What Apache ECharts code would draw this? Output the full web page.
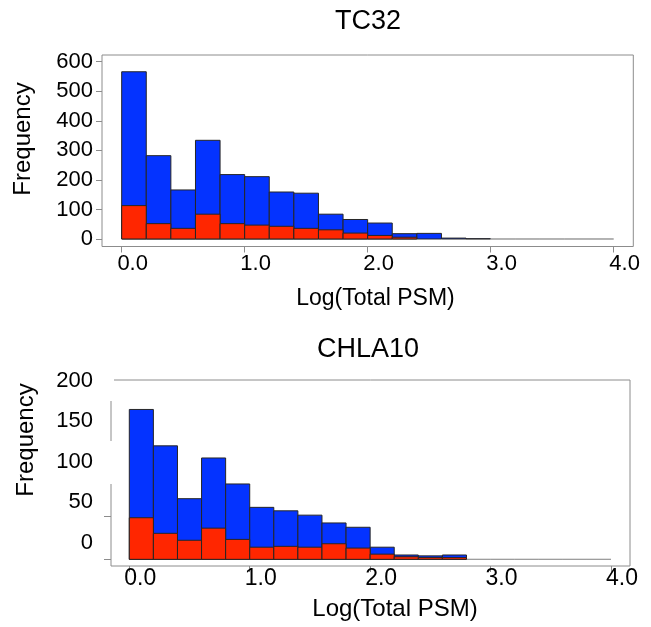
<!DOCTYPE html>
<html>
<head>
<meta charset="utf-8">
<script src="https://cdn.jsdelivr.net/npm/echarts@6/dist/echarts.min.js"></script>
<style>
  html, body { margin: 0; padding: 0; background: #fff; }
  #histChart { width: 651px; height: 627px; }
</style>
</head>
<body>
<div id="histChart"></div>
<script>
// bin edges of Log(Total PSM), 0.2 wide
var binEdges = [0, 0.2, 0.4, 0.6, 0.8, 1.0, 1.2, 1.4, 1.6, 1.8, 2.0,
                2.2, 2.4, 2.6, 2.8, 3.0, 3.2, 3.4, 3.6, 3.8, 4.0];

// TC32 counts per bin (all / subset)
var tc32All = [566, 282, 166, 334, 218, 211, 159, 155, 84, 66,
               54, 18, 19, 3, 1, 0, 0, 0, 0, 0];
var tc32Sub = [113, 52, 36, 84, 52, 47, 43, 36, 31, 20,
               12, 6, 0, 0, 0, 0, 0, 0, 0, 0];

// CHLA10 counts per bin (all / subset)
var chlaAll = [173, 131, 70, 117, 87, 60, 56, 51, 42, 37,
               14, 5, 4, 5, 0, 0, 0, 0, 0, 0];
var chlaSub = [48, 30, 22, 36, 23, 14, 15, 14, 18, 13,
               6, 3, 2, 2, 0, 0, 0, 0, 0, 0];

var xTicks = [0, 1, 2, 3, 4];
var xTickLabels = ['0.0', '1.0', '2.0', '3.0', '4.0'];
var tc32YTicks = [0, 100, 200, 300, 400, 500, 600];
var chlaYTicks = [0, 50];
var chlaYLabels = ['0', '50', '100', '150', '200'];

var FONT = 'Liberation Sans';
var BLUE = '#0433ff';
var RED = '#ff2600';
var FRAME = '#8c8c8c';

function toBins(counts) {
  return counts.map(function (n, i) { return [binEdges[i], binEdges[i + 1], n]; });
}

function histItem(isSub) {
  return function (params, api) {
    var n = api.value(2);
    if (isSub && n <= 0) return null;
    var p0 = api.coord([api.value(0), 0]);
    var p1 = api.coord([api.value(1), n]);
    return {
      type: 'rect',
      shape: { x: p0[0], y: p1[1], width: p1[0] - p0[0], height: p0[1] - p1[1] },
      style: { fill: api.visual('color'), stroke: n > 0 ? '#262626' : '#9a9a9a', lineWidth: 1 }
    };
  };
}

function histSeries(counts, color, isSub, idx) {
  return {
    type: 'custom',
    xAxisIndex: idx,
    yAxisIndex: idx,
    renderItem: histItem(isSub),
    itemStyle: { color: color },
    encode: { x: [0, 1], y: 2 },
    data: toBins(counts),
    silent: true
  };
}

function xAxisFor(idx, min, max, size, margin) {
  return {
    type: 'value', gridIndex: idx, min: min, max: max,
    axisLine: { show: false, onZero: false },
    splitLine: { show: false },
    axisTick: { show: true, length: 6, customValues: xTicks, lineStyle: { color: FRAME } },
    axisLabel: {
      customValues: xTicks, margin: margin, color: '#000',
      fontFamily: FONT, fontSize: size, padding: [0, 0, 0, 22],
      formatter: function (v) { return xTickLabels[xTicks.indexOf(v)]; }
    }
  };
}

function label(text, x, y, size, rotate) {
  return {
    type: 'text', x: x, y: y, rotation: rotate ? Math.PI / 2 : 0,
    style: { text: text, font: size + 'px "Liberation Sans"', fill: '#000', align: 'center', verticalAlign: 'middle' }
  };
}

var myChart = echarts.init(document.getElementById('histChart'), null, { renderer: 'canvas' });

myChart.setOption({
  backgroundColor: '#fff',
  animation: false,
  grid: [
    { left: 102, right: 17.7, top: 55, bottom: 380.5, show: true, borderColor: FRAME, borderWidth: 1 },
    { left: 111, right: 21, top: 380, bottom: 61, show: true, borderColor: FRAME, borderWidth: 1 },
    { left: 111, right: 21, top: 380.5, bottom: 84.5, show: false }
  ],
  xAxis: [
    xAxisFor(0, -0.16, 4.16, 22, 6),
    xAxisFor(1, -0.152, 4.158, 23, 1),
    { type: 'value', gridIndex: 2, show: false, min: 0, max: 1 }
  ],
  yAxis: [
    {
      type: 'value', gridIndex: 0, min: -25.4, max: 622.7,
      axisLine: { show: false, onZero: false }, splitLine: { show: false },
      axisTick: { show: true, length: 6, customValues: tc32YTicks, lineStyle: { color: FRAME } },
      axisLabel: { customValues: tc32YTicks, margin: 9, color: '#000', fontFamily: FONT, fontSize: 22, padding: [0, 0, 7, 0] }
    },
    {
      type: 'value', gridIndex: 1, min: -7.7, max: 207,
      axisLine: { show: false, onZero: false }, splitLine: { show: false },
      axisTick: { show: true, length: 7, customValues: chlaYTicks, lineStyle: { color: FRAME } },
      axisLabel: { show: false }
    },
    {
      // labels of the CHLA10 panel sit apart from its ticks
      type: 'value', gridIndex: 2, min: 0, max: 200, interval: 50,
      axisLine: { show: false, onZero: false }, splitLine: { show: false }, axisTick: { show: false },
      axisLabel: {
        margin: 18, color: '#000', fontFamily: FONT, fontSize: 22,
        formatter: function (v) { return chlaYLabels[v / 50]; }
      }
    }
  ],
  graphic: [
    { type: 'rect', z: 100, shape: { x: 100, y: 379, width: 14, height: 22 }, style: { fill: '#fff' } },
    { type: 'rect', z: 100, shape: { x: 100, y: 441, width: 14, height: 43 }, style: { fill: '#fff' } },
    label('TC32', 368, 22, 27),
    label('Log(Total PSM)', 375.5, 299, 23),
    label('Frequency', 23, 139, 24, true),
    label('CHLA10', 368, 350, 27),
    label('Log(Total PSM)', 395, 609, 24),
    label('Frequency', 26, 440, 24, true)
  ],
  series: [
    histSeries(tc32All, BLUE, false, 0),
    histSeries(tc32Sub, RED, true, 0),
    histSeries(chlaAll, BLUE, false, 1),
    histSeries(chlaSub, RED, true, 1)
  ]
});
</script>
</body>
</html>
